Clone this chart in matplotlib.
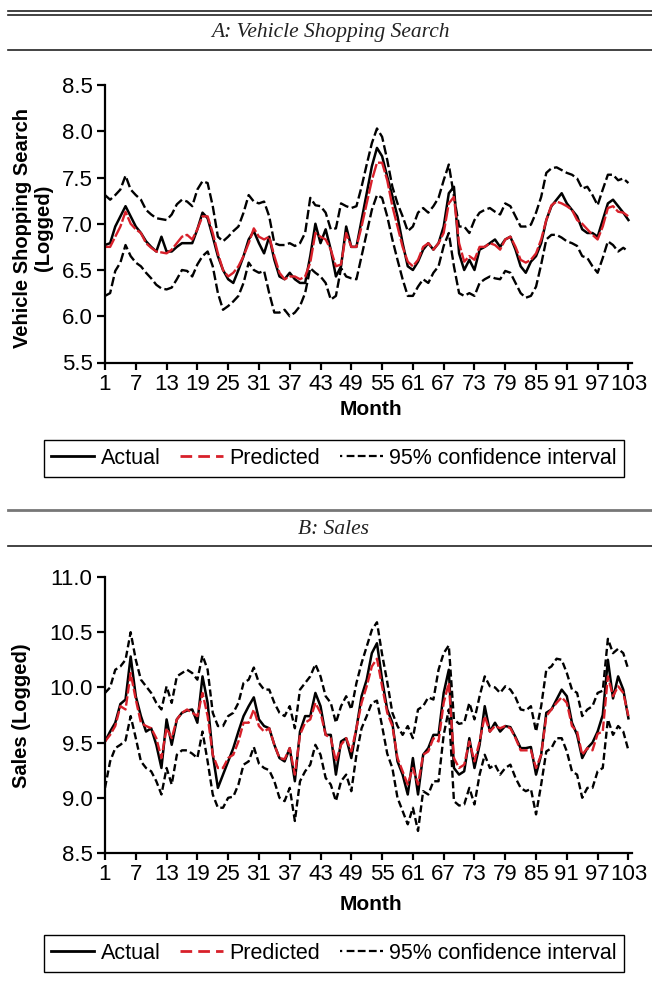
import numpy as np
import matplotlib

matplotlib.use('Agg')
import matplotlib.pyplot as plt
from matplotlib.lines import Line2D

matplotlib.rcParams['font.family'] = ['Liberation Sans', 'DejaVu Sans']
matplotlib.rcParams['axes.linewidth'] = 1.6

W, H = 652, 994
RED = '#d8202a'

months = np.arange(1, 104)
month_ticks = np.arange(1, 104, 6)

# A: vehicle shopping search (logged)
search_actual = [
    6.77, 6.79, 6.97, 7.08, 7.19, 7.08, 6.97, 6.90, 6.81, 6.75,
    6.70, 6.86, 6.70, 6.70, 6.75, 6.79, 6.79, 6.79, 6.94, 7.12,
    7.06, 6.86, 6.65, 6.50, 6.40, 6.36, 6.50, 6.65, 6.83, 6.92,
    6.79, 6.68, 6.86, 6.61, 6.43, 6.40, 6.47, 6.40, 6.36, 6.36,
    6.65, 7.00, 6.79, 6.94, 6.72, 6.43, 6.54, 6.97, 6.75, 6.75,
    7.04, 7.33, 7.62, 7.82, 7.73, 7.51, 7.30, 7.08, 6.79, 6.54,
    6.50, 6.59, 6.72, 6.79, 6.72, 6.79, 6.97, 7.33, 7.40, 6.68,
    6.50, 6.61, 6.50, 6.72, 6.75, 6.79, 6.83, 6.75, 6.83, 6.86,
    6.72, 6.54, 6.47, 6.59, 6.65, 6.79, 7.04, 7.19, 7.26, 7.33,
    7.22, 7.15, 7.08, 6.94, 6.90, 6.90, 6.86, 7.04, 7.22, 7.26,
    7.19, 7.12, 7.04]
search_predicted = [
    6.75, 6.75, 6.86, 6.97, 7.13, 7.00, 6.94, 6.90, 6.79, 6.74,
    6.70, 6.69, 6.68, 6.72, 6.79, 6.86, 6.88, 6.83, 6.94, 7.08,
    7.08, 6.90, 6.68, 6.50, 6.43, 6.47, 6.54, 6.65, 6.79, 6.95,
    6.86, 6.83, 6.86, 6.65, 6.47, 6.40, 6.43, 6.43, 6.40, 6.43,
    6.58, 6.90, 6.86, 6.83, 6.72, 6.54, 6.56, 6.90, 6.75, 6.75,
    6.97, 7.22, 7.47, 7.66, 7.66, 7.47, 7.19, 6.97, 6.75, 6.59,
    6.54, 6.61, 6.75, 6.79, 6.72, 6.79, 6.90, 7.22, 7.29, 6.79,
    6.59, 6.65, 6.61, 6.75, 6.75, 6.79, 6.77, 6.72, 6.83, 6.86,
    6.75, 6.61, 6.58, 6.61, 6.68, 6.83, 7.04, 7.20, 7.24, 7.22,
    7.19, 7.15, 7.04, 7.00, 6.94, 6.88, 6.83, 6.97, 7.17, 7.19,
    7.13, 7.12, 7.08]
search_upper = [
    7.31, 7.26, 7.31, 7.37, 7.52, 7.37, 7.31, 7.26, 7.15, 7.10,
    7.06, 7.05, 7.04, 7.10, 7.21, 7.26, 7.24, 7.19, 7.37, 7.46,
    7.44, 7.19, 6.86, 6.81, 6.86, 6.92, 6.97, 7.12, 7.31, 7.24,
    7.22, 7.24, 7.08, 6.79, 6.77, 6.77, 6.79, 6.76, 6.79, 6.90,
    7.28, 7.20, 7.19, 7.12, 6.94, 6.95, 7.22, 7.19, 7.17, 7.19,
    7.40, 7.64, 7.87, 8.03, 7.94, 7.69, 7.40, 7.22, 7.08, 6.92,
    6.97, 7.12, 7.17, 7.12, 7.19, 7.28, 7.47, 7.64, 7.30, 6.97,
    6.97, 6.90, 7.04, 7.12, 7.15, 7.17, 7.13, 7.10, 7.22, 7.19,
    7.08, 6.97, 6.97, 6.99, 7.12, 7.29, 7.55, 7.60, 7.61, 7.58,
    7.55, 7.53, 7.49, 7.38, 7.40, 7.31, 7.20, 7.37, 7.53, 7.53,
    7.47, 7.49, 7.44]
search_lower = [
    6.22, 6.25, 6.49, 6.58, 6.77, 6.65, 6.58, 6.54, 6.47, 6.41,
    6.34, 6.30, 6.29, 6.31, 6.40, 6.50, 6.49, 6.43, 6.56, 6.65,
    6.70, 6.54, 6.25, 6.07, 6.11, 6.16, 6.22, 6.36, 6.58, 6.50,
    6.47, 6.49, 6.25, 6.04, 6.04, 6.07, 6.00, 6.04, 6.11, 6.25,
    6.52, 6.47, 6.43, 6.36, 6.18, 6.22, 6.52, 6.43, 6.41, 6.40,
    6.65, 6.90, 7.15, 7.31, 7.28, 7.08, 6.83, 6.61, 6.40, 6.22,
    6.22, 6.32, 6.40, 6.36, 6.47, 6.54, 6.76, 6.90, 6.54, 6.25,
    6.22, 6.25, 6.22, 6.36, 6.40, 6.43, 6.41, 6.40, 6.49, 6.47,
    6.36, 6.25, 6.20, 6.22, 6.32, 6.56, 6.83, 6.88, 6.88, 6.85,
    6.81, 6.79, 6.76, 6.65, 6.63, 6.54, 6.47, 6.63, 6.81, 6.77,
    6.70, 6.74, 6.70]

# B: sales (logged)
sales_actual = [
    9.51, 9.60, 9.68, 9.85, 9.89, 10.28, 9.92, 9.74, 9.60, 9.63,
    9.48, 9.27, 9.71, 9.48, 9.71, 9.77, 9.79, 9.80, 9.68, 10.10,
    9.86, 9.39, 9.09, 9.21, 9.33, 9.45, 9.60, 9.74, 9.83, 9.91,
    9.71, 9.65, 9.63, 9.48, 9.36, 9.33, 9.45, 9.15, 9.60, 9.74,
    9.74, 9.95, 9.83, 9.57, 9.57, 9.21, 9.51, 9.54, 9.36, 9.63,
    9.92, 10.07, 10.31, 10.40, 10.07, 9.80, 9.68, 9.33, 9.21, 9.03,
    9.36, 9.03, 9.39, 9.45, 9.57, 9.57, 9.95, 10.16, 9.27, 9.21,
    9.24, 9.54, 9.27, 9.48, 9.83, 9.60, 9.68, 9.60, 9.65, 9.64,
    9.55, 9.45, 9.45, 9.46, 9.21, 9.39, 9.77, 9.80, 9.89, 9.98,
    9.92, 9.68, 9.57, 9.36, 9.45, 9.50, 9.60, 9.75, 10.25, 9.90,
    10.10, 9.98, 9.72]
sales_predicted = [
    9.51, 9.57, 9.65, 9.83, 9.80, 10.13, 9.89, 9.68, 9.65, 9.63,
    9.54, 9.36, 9.63, 9.54, 9.71, 9.77, 9.80, 9.77, 9.74, 9.95,
    9.74, 9.39, 9.27, 9.27, 9.36, 9.39, 9.51, 9.68, 9.68, 9.80,
    9.65, 9.60, 9.63, 9.48, 9.36, 9.35, 9.45, 9.21, 9.57, 9.68,
    9.71, 9.86, 9.77, 9.57, 9.54, 9.33, 9.48, 9.54, 9.42, 9.63,
    9.86, 10.01, 10.19, 10.26, 10.01, 9.77, 9.65, 9.36, 9.24, 9.12,
    9.27, 9.12, 9.39, 9.42, 9.54, 9.51, 9.86, 10.04, 9.36, 9.27,
    9.30, 9.51, 9.33, 9.51, 9.74, 9.60, 9.65, 9.63, 9.65, 9.63,
    9.54, 9.43, 9.43, 9.43, 9.27, 9.39, 9.74, 9.80, 9.86, 9.91,
    9.86, 9.65, 9.60, 9.39, 9.45, 9.43, 9.58, 9.60, 10.10, 9.92,
    10.01, 9.95, 9.74]
sales_upper = [
    9.95, 10.00, 10.16, 10.19, 10.25, 10.50, 10.25, 10.07, 10.01, 9.95,
    9.86, 9.80, 10.01, 9.86, 10.10, 10.13, 10.16, 10.13, 10.07, 10.29,
    10.16, 9.77, 9.65, 9.65, 9.74, 9.77, 9.86, 10.04, 10.07, 10.18,
    10.04, 9.98, 9.98, 9.86, 9.77, 9.74, 9.83, 9.63, 9.98, 10.04,
    10.10, 10.21, 10.10, 9.92, 9.86, 9.68, 9.83, 9.92, 9.80, 10.04,
    10.22, 10.37, 10.52, 10.59, 10.30, 10.05, 9.77, 9.65, 9.57, 9.65,
    9.54, 9.80, 9.83, 9.91, 9.89, 10.16, 10.31, 10.38, 9.71, 9.67,
    9.68, 9.86, 9.71, 9.92, 10.10, 10.01, 10.00, 9.95, 10.01, 9.98,
    9.91, 9.80, 9.79, 9.83, 9.60, 9.83, 10.16, 10.19, 10.26, 10.25,
    10.13, 9.98, 9.95, 9.74, 9.80, 9.83, 9.95, 9.97, 10.44, 10.31,
    10.35, 10.31, 10.16]
sales_lower = [
    9.09, 9.33, 9.45, 9.48, 9.52, 9.74, 9.54, 9.33, 9.27, 9.24,
    9.15, 9.03, 9.27, 9.12, 9.39, 9.43, 9.43, 9.40, 9.36, 9.60,
    9.33, 9.03, 8.91, 8.91, 9.00, 9.01, 9.12, 9.30, 9.33, 9.46,
    9.31, 9.27, 9.25, 9.15, 9.00, 8.97, 9.09, 8.79, 9.15, 9.24,
    9.30, 9.48, 9.39, 9.18, 9.12, 8.97, 9.15, 9.21, 9.06, 9.39,
    9.63, 9.74, 9.86, 9.88, 9.65, 9.40, 9.27, 9.00, 8.88, 8.76,
    8.91, 8.70, 9.06, 9.03, 9.15, 9.15, 9.57, 9.80, 8.97, 8.93,
    8.94, 9.09, 8.94, 9.21, 9.39, 9.27, 9.30, 9.21, 9.27, 9.30,
    9.18, 9.09, 9.06, 9.08, 8.85, 9.12, 9.42, 9.45, 9.54, 9.54,
    9.42, 9.24, 9.21, 9.00, 9.09, 9.09, 9.24, 9.27, 9.71, 9.57,
    9.65, 9.60, 9.43]

search_yticks = [5.5, 6.0, 6.5, 7.0, 7.5, 8.0, 8.5]
sales_yticks = [8.5, 9.0, 9.5, 10.0, 10.5, 11.0]
legend_labels = ['Actual', 'Predicted', '95% confidence interval']


def fx(x):
    return x / W


def fy(y):
    return 1 - y / H


def rule(fig, y, color='#222222', lw=1.2):
    fig.add_artist(Line2D([fx(8), 1.0], [fy(y), fy(y)], transform=fig.transFigure,
                          color=color, linewidth=lw))


def draw_panel(fig, top, bottom, actual, predicted, upper, lower, yticks, ci_dash, pred_dash):
    ax = fig.add_axes([fx(105), fy(bottom), fx(632) - fx(105), (bottom - top) / H])
    ax.plot(months, upper, color='black', linewidth=1.7, linestyle=(0, ci_dash))
    ax.plot(months, lower, color='black', linewidth=1.7, linestyle=(0, ci_dash))
    ax.plot(months, actual, color='black', linewidth=1.8)
    ax.plot(months, predicted, color=RED, linewidth=1.7, linestyle=(0, pred_dash))
    ax.set_xlim(1, 103.7)
    ax.set_ylim(yticks[0], yticks[-1])
    ax.set_xticks(month_ticks)
    ax.set_yticks(yticks)
    ax.set_yticklabels([f'{v:.1f}' for v in yticks])
    ax.spines['top'].set_visible(False)
    ax.spines['right'].set_visible(False)
    ax.tick_params(axis='y', direction='out', length=6, width=1.6, pad=3, labelsize=16)
    ax.tick_params(axis='x', direction='out', length=5, width=1.6, pad=3, labelsize=16)
    return ax


def add_legend(fig, y):
    handles = [
        Line2D([], [], color='black', linewidth=2),
        Line2D([], [], color=RED, linewidth=2, linestyle=(0, (4.2, 2.2))),
        Line2D([], [], color='black', linewidth=1.6,
               linestyle=(0, (1, 2, 3.5, 1.5, 3.5, 1.5, 3.5, 1.5, 3.5, 1.5))),
    ]
    leg = fig.legend(handles, legend_labels, loc='center', bbox_to_anchor=(fx(334), fy(y)),
                     ncol=3, fontsize=15.5, handlelength=2.0, handletextpad=0.3,
                     columnspacing=0.9, borderpad=0.35, fancybox=False,
                     edgecolor='black', framealpha=1)
    leg.get_frame().set_linewidth(1.0)
    return leg


fig = plt.figure(figsize=(W / 100, H / 100), dpi=100)

# panel A
rule(fig, 11)
rule(fig, 15)
fig.text(fx(330), fy(32), 'A: Vehicle Shopping Search', family='Liberation Serif',
         style='italic', fontsize=15.5, ha='center', va='center', color='#222222')
rule(fig, 50)
draw_panel(fig, 85, 362.5, search_actual, search_predicted, search_upper, search_lower,
           search_yticks, (4, 1.5), (6, 1))
fig.text(fx(33), fy(228), 'Vehicle Shopping Search\n(Logged)', rotation=90, ha='center',
         va='center', multialignment='center', fontweight='bold', fontsize=14.5,
         linespacing=1.1)
fig.text(fx(371), fy(410), 'Month', ha='center', va='center', fontweight='bold', fontsize=15)
add_legend(fig, 458.5)

# panel B
rule(fig, 510, color='#777777', lw=2)
fig.text(fx(334), fy(529), 'B: Sales', family='Liberation Serif', style='italic',
         fontsize=15.5, ha='center', va='center', color='#222222')
rule(fig, 546)
draw_panel(fig, 577, 853, sales_actual, sales_predicted, sales_upper, sales_lower,
           sales_yticks, (3, 1.5), (4, 1.2))
fig.text(fx(22), fy(716), 'Sales (Logged)', rotation=90, ha='center', va='center',
         fontweight='bold', fontsize=14.5)
fig.text(fx(371), fy(905), 'Month', ha='center', va='center', fontweight='bold', fontsize=15)
add_legend(fig, 953.5)

fig.savefig('out.png', dpi=100)
